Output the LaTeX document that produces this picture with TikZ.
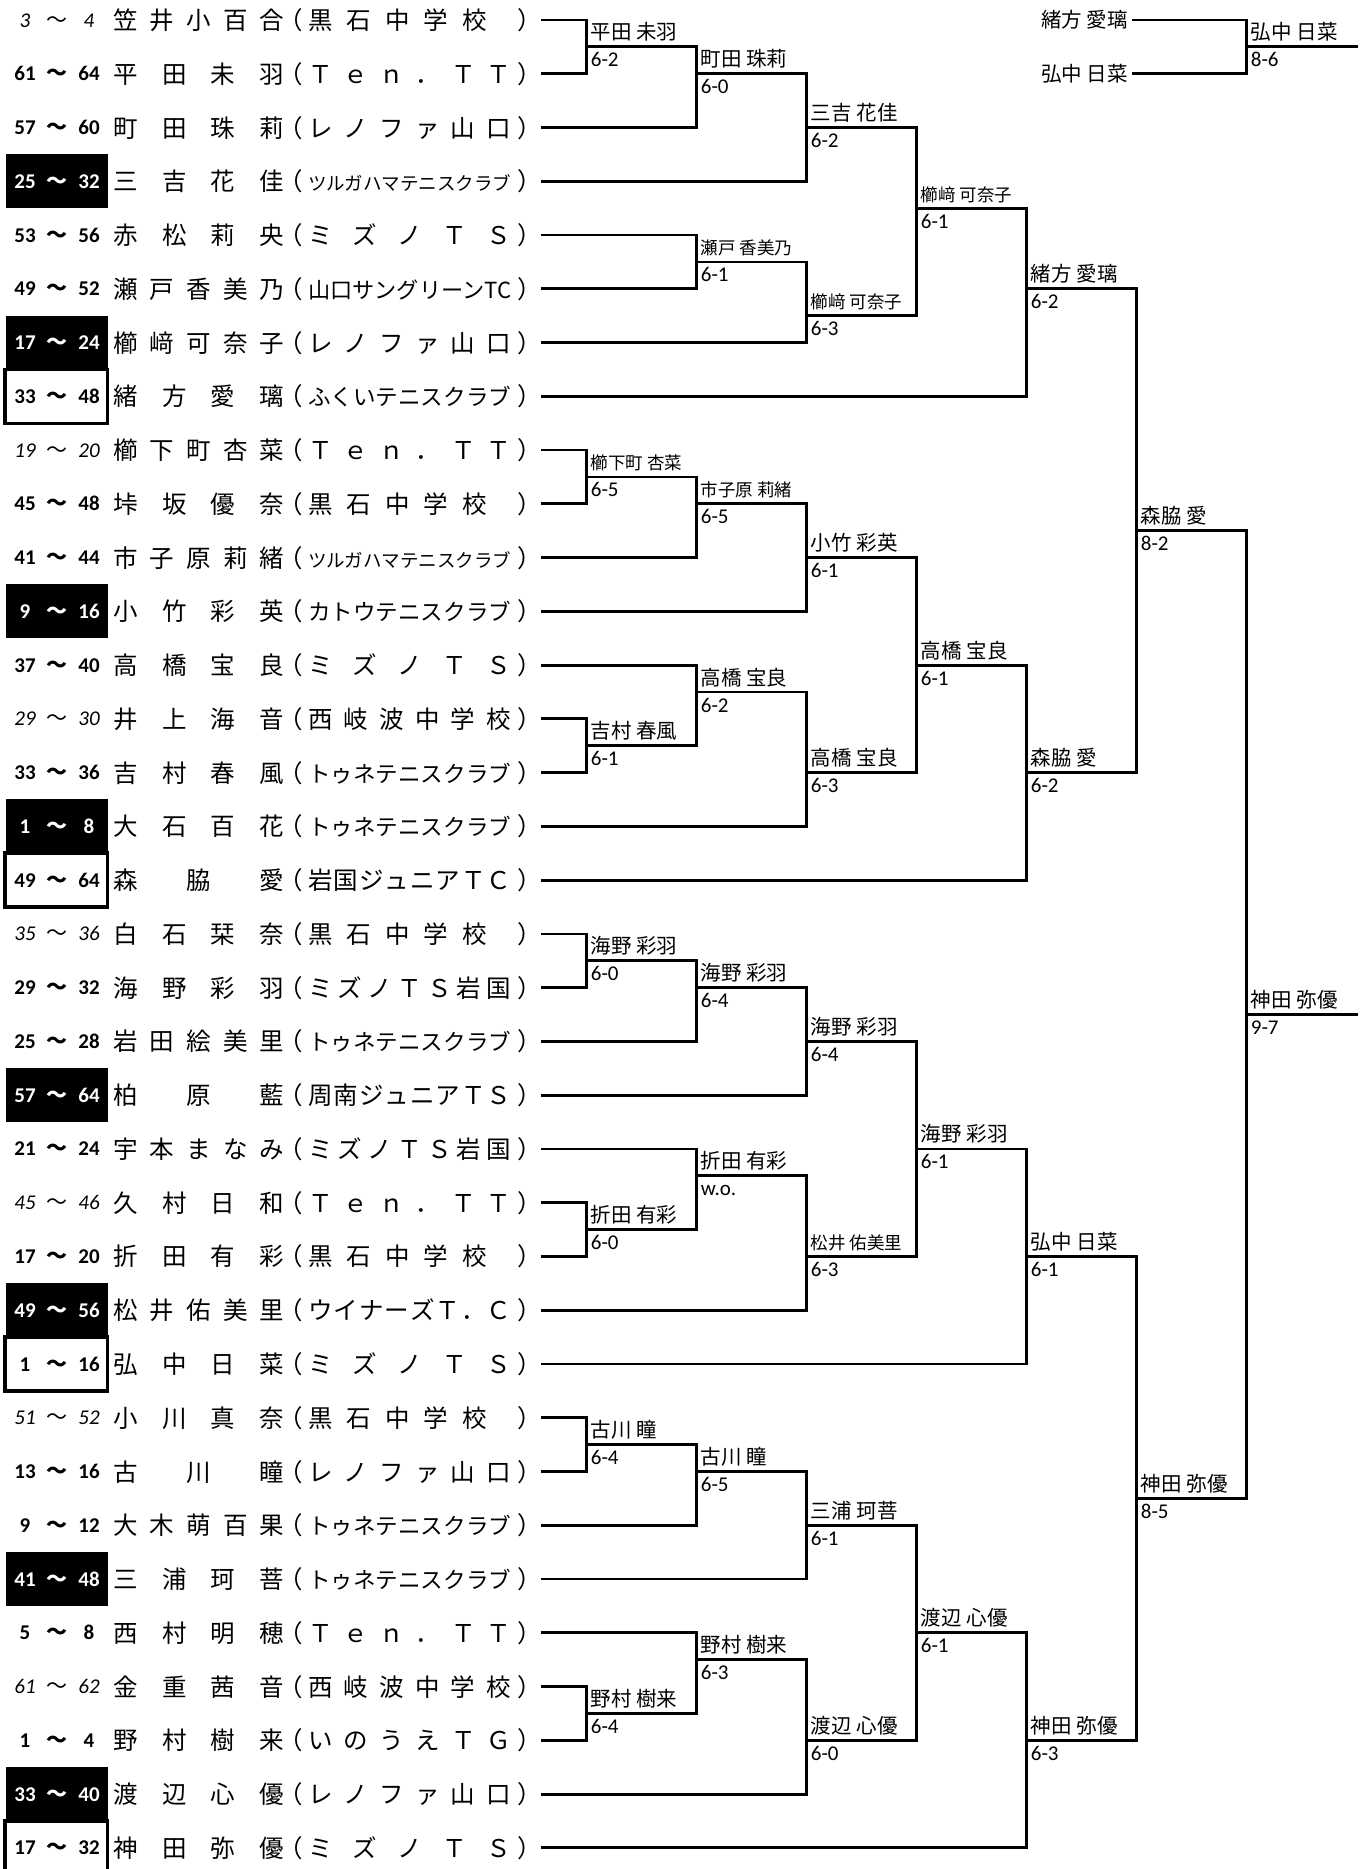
\documentclass[tikz,border=0pt]{standalone}
\usepackage{fontspec}
\usepackage{graphicx}
\setmainfont{Carlito}
\newfontfamily\jp{Noto Sans CJK JP}

\newcommand\nmbox[1]{\makebox[171pt][s]{\spaceskip=0pt plus 1fil\relax #1}}
\newcommand\spr[2][203pt]{\makebox[203pt][l]{\makebox[#1][s]{\spaceskip=0pt plus 1fil\relax #2}}}
\newcommand\sqz[1]{\resizebox{203pt}{!}{#1}}
\newcommand\plr[2]{\nmbox{#1}\hspace{-6pt}（\hspace{5.5pt}#2\hspace{6pt}）\hspace{-8.5pt}}
\newcommand\sdb[2]{{\bfseries\makebox[32pt]{#1}\makebox[32pt]{\jp\bfseries ～}\makebox[32pt]{#2}}}
\newcommand\sdi[2]{{\itshape\makebox[32pt]{#1}\makebox[32pt]{\jp ～}\makebox[32pt]{#2}}}
\newcommand\kuro{\spr[178.5pt]{黒 石 中 学 校}}
\newcommand\ten{\spr{Ｔ ｅ ｎ ． Ｔ Ｔ}}
\newcommand\reno{\spr{レ ノ フ ァ 山 口}}
\newcommand\mizu{\spr{ミ ズ ノ Ｔ Ｓ}}
\newcommand\tune{\sqz{トゥネテニスクラブ}}

\tikzset{
  ln/.style={line width=2.8pt, line cap=rect},
  plrnode/.style={anchor=base west, inner sep=0pt, font=\jp\fontsize{24.5}{24.5}\selectfont},
  sdnode/.style={anchor=base, inner sep=0pt, font=\fontsize{21}{21}\selectfont},
  scnode/.style={anchor=base west, inner sep=0pt, font=\fontsize{21}{21}\selectfont},
  labnode/.style={anchor=base west, inner sep=0pt}
}

\begin{document}
\begin{tikzpicture}[x=1pt,y=-1pt]
  \useasboundingbox (0,0) rectangle (1370,1869);
  % seed boxes
  \foreach \r in {3,6,11,15,20,24,29,33}
    \fill ({6},{20+53.76*\r-27}) rectangle (108,{20+53.76*\r+27});
  \foreach \r in {7,16,25,34}
    \draw[line width=3.4pt] (5,{20+53.76*\r-27}) rectangle (107.5,{20+53.76*\r+27});
  % players
  \foreach \r/\sd/\nm/\cl/\k/\tc in {
    0/{\sdi{3}{4}}/{笠 井 小 百 合}/{\kuro}/1/black,
    1/{\sdb{61}{64}}/{平 田 未 羽}/{\ten}/1/black,
    2/{\sdb{57}{60}}/{町 田 珠 莉}/{\reno}/2/black,
    3/{\sdb{25}{32}}/{三 吉 花 佳}/{\sqz{ツルガハマテニスクラブ}}/3/white,
    4/{\sdb{53}{56}}/{赤 松 莉 央}/{\mizu}/2/black,
    5/{\sdb{49}{52}}/{瀬 戸 香 美 乃}/{\sqz{山口サングリーンTC}}/2/black,
    6/{\sdb{17}{24}}/{櫛 﨑 可 奈 子}/{\reno}/3/white,
    7/{\sdb{33}{48}}/{緒 方 愛 璃}/{\sqz{ふくいテニスクラブ}}/5/black,
    8/{\sdi{19}{20}}/{櫛 下 町 杏 菜}/{\ten}/1/black,
    9/{\sdb{45}{48}}/{垰 坂 優 奈}/{\kuro}/1/black,
    10/{\sdb{41}{44}}/{市 子 原 莉 緒}/{\sqz{ツルガハマテニスクラブ}}/2/black,
    11/{\sdb{9}{16}}/{小 竹 彩 英}/{\sqz{カトウテニスクラブ}}/3/white,
    12/{\sdb{37}{40}}/{高 橋 宝 良}/{\mizu}/2/black,
    13/{\sdi{29}{30}}/{井 上 海 音}/{\spr{西 岐 波 中 学 校}}/1/black,
    14/{\sdb{33}{36}}/{吉 村 春 風}/{\tune}/1/black,
    15/{\sdb{1}{8}}/{大 石 百 花}/{\tune}/3/white,
    16/{\sdb{49}{64}}/{森 脇 愛}/{\spr{岩 国 ジ ュ ニ ア Ｔ Ｃ}}/5/black,
    17/{\sdi{35}{36}}/{白 石 栞 奈}/{\kuro}/1/black,
    18/{\sdb{29}{32}}/{海 野 彩 羽}/{\spr{ミ ズ ノ Ｔ Ｓ 岩 国}}/1/black,
    19/{\sdb{25}{28}}/{岩 田 絵 美 里}/{\tune}/2/black,
    20/{\sdb{57}{64}}/{柏 原 藍}/{\spr{周 南 ジ ュ ニ ア Ｔ Ｓ}}/3/white,
    21/{\sdb{21}{24}}/{宇 本 ま な み}/{\spr{ミ ズ ノ Ｔ Ｓ 岩 国}}/2/black,
    22/{\sdi{45}{46}}/{久 村 日 和}/{\ten}/1/black,
    23/{\sdb{17}{20}}/{折 田 有 彩}/{\kuro}/1/black,
    24/{\sdb{49}{56}}/{松 井 佑 美 里}/{\spr{ウ イ ナ ー ズ Ｔ ． Ｃ}}/3/white,
    25/{\sdb{1}{16}}/{弘 中 日 菜}/{\mizu}/5/black,
    26/{\sdi{51}{52}}/{小 川 真 奈}/{\kuro}/1/black,
    27/{\sdb{13}{16}}/{古 川 瞳}/{\reno}/1/black,
    28/{\sdb{9}{12}}/{大 木 萌 百 果}/{\tune}/2/black,
    29/{\sdb{41}{48}}/{三 浦 珂 菩}/{\tune}/3/white,
    30/{\sdb{5}{8}}/{西 村 明 穂}/{\ten}/2/black,
    31/{\sdi{61}{62}}/{金 重 茜 音}/{\spr{西 岐 波 中 学 校}}/1/black,
    32/{\sdb{1}{4}}/{野 村 樹 来}/{\spr{い の う え Ｔ Ｇ}}/1/black,
    33/{\sdb{33}{40}}/{渡 辺 心 優}/{\reno}/3/white,
    34/{\sdb{17}{32}}/{神 田 弥 優}/{\mizu}/5/black}
  {
    \pgfmathsetmacro\yy{20+53.76*\r}
    \node[plrnode] (p\r) at (113,\yy+9.5) {\plr{\nm}{\cl}};
    \node[sdnode, text=\tc] (s\r) at (57,\yy+7) {\sd};
    \draw[ln] (p\r.east |- 0,\yy) -- ({586.7+110*(\k-1)},\yy);
  }
  % matches: number/column/top/bottom/out/winner/score/size
  \foreach \m/\k/\t/\b/\o/\nm/\sc/\fs in {
    1/1/0/1/0.5/{平田 未羽}/6-2/20.5,
    2/2/0.5/2/1/{町田 珠莉}/6-0/20.5,
    3/3/1/3/2/{三吉 花佳}/6-2/20.5,
    4/2/4/5/4.5/{瀬戸 香美乃}/6-1/17.5,
    5/3/4.5/6/5.5/{櫛﨑 可奈子}/6-3/17.5,
    6/4/2/5.5/3.5/{櫛﨑 可奈子}/6-1/17.5,
    7/5/3.5/7/5/{緒方 愛璃}/6-2/20.5,
    8/1/8/9/8.5/{櫛下町 杏菜}/6-5/17.5,
    9/2/8.5/10/9/{市子原 莉緒}/6-5/17.5,
    10/3/9/11/10/{小竹 彩英}/6-1/20.5,
    11/1/13/14/13.5/{吉村 春風}/6-1/20.5,
    12/2/12/13.5/12.5/{高橋 宝良}/6-2/20.5,
    13/3/12.5/15/14/{高橋 宝良}/6-3/20.5,
    14/4/10/14/12/{高橋 宝良}/6-1/20.5,
    15/5/12/16/14/{森脇 愛}/6-2/20.5,
    16/6/5/14/9.5/{森脇 愛}/8-2/20.5,
    17/1/17/18/17.5/{海野 彩羽}/6-0/20.5,
    18/2/17.5/19/18/{海野 彩羽}/6-4/20.5,
    19/3/18/20/19/{海野 彩羽}/6-4/20.5,
    20/1/22/23/22.5/{折田 有彩}/6-0/20.5,
    21/2/21/22.5/21.5/{折田 有彩}/w.o./20.5,
    22/3/21.5/24/23/{松井 佑美里}/6-3/17.5,
    23/4/19/23/21/{海野 彩羽}/6-1/20.5,
    24/5/21/25/23/{弘中 日菜}/6-1/20.5,
    25/1/26/27/26.5/{古川 瞳}/6-4/20.5,
    26/2/26.5/28/27/{古川 瞳}/6-5/20.5,
    27/3/27/29/28/{三浦 珂菩}/6-1/20.5,
    28/1/31/32/31.5/{野村 樹来}/6-4/20.5,
    29/2/30/31.5/30.5/{野村 樹来}/6-3/20.5,
    30/3/30.5/33/32/{渡辺 心優}/6-0/20.5,
    31/4/28/32/30/{渡辺 心優}/6-1/20.5,
    32/5/30/34/32/{神田 弥優}/6-3/20.5,
    33/6/23/32/27.5/{神田 弥優}/8-5/20.5,
    34/7/9.5/27.5/18.5/{神田 弥優}/9-7/20.5,
    35/7/0/1/0.5/{弘中 日菜}/8-6/20.5}
  {
    \pgfmathsetmacro\xa{586.7+110*(\k-1)}
    \pgfmathsetmacro\xb{\xa+110}
    \pgfmathsetmacro\yt{20+53.76*\t}
    \pgfmathsetmacro\yb{20+53.76*\b}
    \pgfmathsetmacro\yo{20+53.76*\o}
    \draw[ln] (\xa,\yt) -- (\xa,\yb);
    \draw[ln] (\xa,\yo) coordinate (m\m) -- (\xb,\yo);
    \node[labnode, font=\jp\fontsize{\fs}{\fs}\selectfont] (w\m) at ([xshift=4pt,yshift=7pt]m\m) {\nm};
    \node[scnode] (sc\m) at ([xshift=4pt,yshift=-20pt]m\m) {\sc};
  }
  % third place entries
  \node[anchor=base east, inner xsep=5pt, inner ysep=0pt, font=\jp\fontsize{20.5}{20.5}\selectfont] (t1) at (1133,27.8) {緒方 愛璃};
  \node[anchor=base east, inner xsep=5pt, inner ysep=0pt, font=\jp\fontsize{20.5}{20.5}\selectfont] (t2) at (1133,81.6) {弘中 日菜};
  \draw[ln] (t1.east |- 0,20) -- (1245.7,20);
  \draw[ln] (t2.east |- 0,73.76) -- (1245.7,73.76);
\end{tikzpicture}
\end{document}
